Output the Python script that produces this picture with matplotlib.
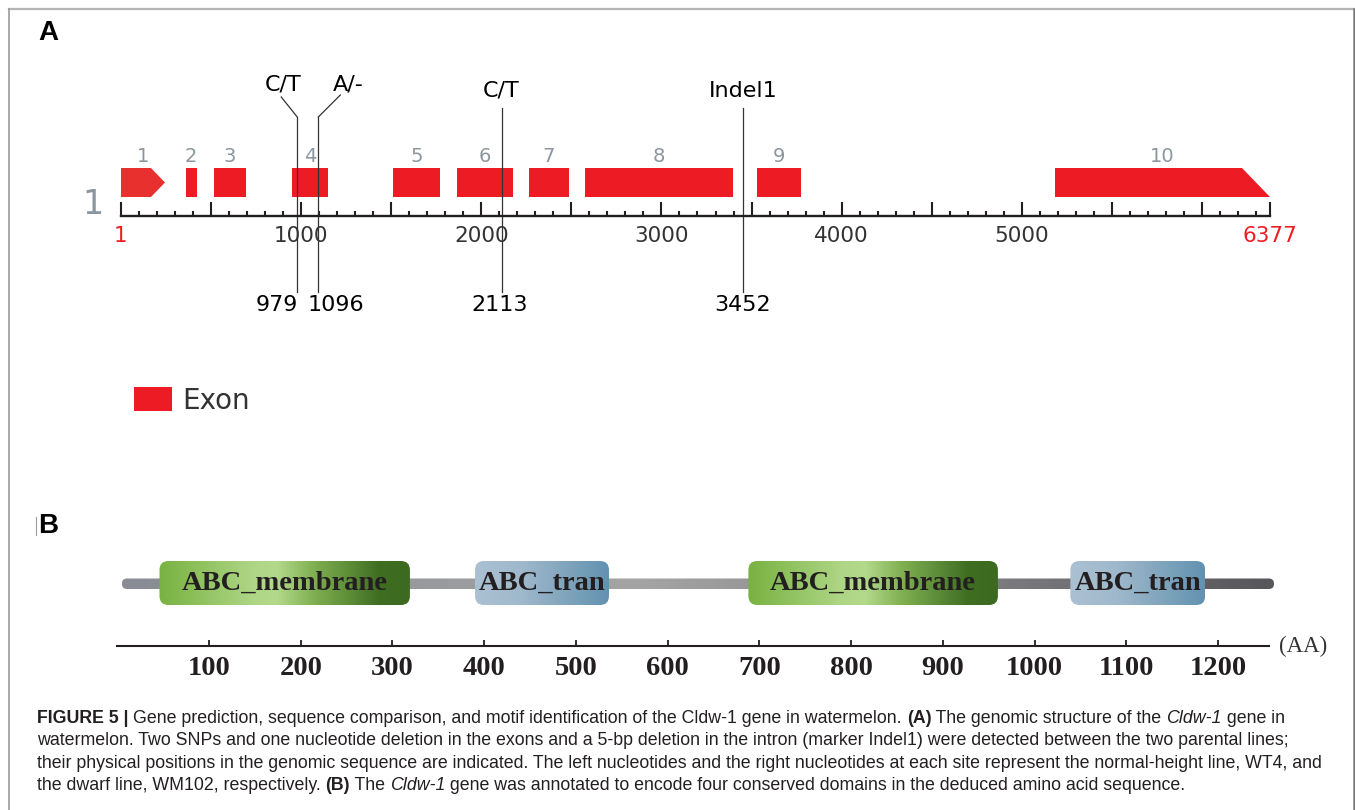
import numpy as np
import matplotlib
matplotlib.use('Agg')
import matplotlib.pyplot as plt
import matplotlib.font_manager as fm
from matplotlib.patches import Rectangle, Polygon, FancyBboxPatch
from matplotlib.lines import Line2D
from matplotlib.colors import LinearSegmentedColormap

# ---- panel A: genomic structure (bp) ----
gene_len = 6377
exon_start = [1, 361, 518, 951, 1512, 1864, 2265, 2578, 3532, 5184]
exon_end = [245, 420, 694, 1151, 1771, 2178, 2487, 3396, 3775, 6377]
exon_names = ['1', '2', '3', '4', '5', '6', '7', '8', '9', '10']
var_pos = [979, 1096, 2113, 3452]
var_top = ['C/T', 'A/-', 'C/T', 'Indel1']
var_bottom = ['979', '1096', '2113', '3452']
bp_labels = [1000, 2000, 3000, 4000, 5000]

# ---- panel B: conserved domains (AA) ----
prot_len = 1258
dom_names = ['ABC_membrane', 'ABC_tran', 'ABC_membrane', 'ABC_tran']
dom_start = [46, 390, 688, 1039]
dom_end = [319, 536, 960, 1186]
aa_ticks = [100, 200, 300, 400, 500, 600, 700, 800, 900, 1000, 1100, 1200]

caption = [
    [('FIGURE 5 | ', 'b'), ('Gene prediction, sequence comparison, and motif identification of the Cldw-1 gene in watermelon. ', 'n'),
     ('(A)', 'b'), (' The genomic structure of the ', 'n'), ('Cldw-1', 'i'), (' gene in', 'n')],
    [('watermelon. Two SNPs and one nucleotide deletion in the exons and a 5-bp deletion in the intron (marker Indel1) were detected between the two parental lines;', 'n')],
    [('their physical positions in the genomic sequence are indicated. The left nucleotides and the right nucleotides at each site represent the normal-height line, WT4, and', 'n')],
    [('the dwarf line, WM102, respectively. ', 'n'), ('(B)', 'b'), (' The ', 'n'), ('Cldw-1', 'i'),
     (' gene was annotated to encode four conserved domains in the deduced amino acid sequence.', 'n')],
]

RED = '#ed1c24'
GREY_NUM = '#8b96a0'
INK = '#231f20'

W, H = 1355, 810
fig = plt.figure(figsize=(W / 100, H / 100), dpi=100)
fig.patch.set_facecolor('white')


def px_axes(x0, x1, y0, y1):
    return fig.add_axes([x0 / W, 1 - y1 / H, (x1 - x0) / W, (y1 - y0) / H])


# frame around the figure
frame = dict(transform=fig.transFigure)
fig.add_artist(Line2D([9 / W, 1354 / W], [1 - 8.5 / H] * 2, color='#b4b4b4', lw=1.6, **frame))
fig.add_artist(Line2D([9 / W] * 2, [0, 1 - 8.5 / H], color='#9a9a9a', lw=1.2, **frame))
fig.add_artist(Line2D([1354 / W] * 2, [0, 1 - 8.5 / H], color='#7a7a7a', lw=1.8, **frame))

fig.text(48 / W, 1 - 33 / H, 'A', fontsize=20, fontweight='bold', family='Liberation Sans',
         ha='center', va='center', color='black')
fig.text(48 / W, 1 - 526 / H, 'B', fontsize=20, fontweight='bold', family='Liberation Sans',
         ha='center', va='center', color='black')
fig.add_artist(Line2D([35.7 / W] * 2, [1 - 517 / H, 1 - 535 / H], color='#9a9a9a', lw=0.8, **frame))

# ================= panel A =================
axA = px_axes(121, 1270, 0, 480)
axA.set_xlim(1, gene_len)
axA.set_ylim(480, 0)
bp_per_px = (gene_len - 1) / (1270 - 121)

ex_top, ex_bot = 168, 197
for i, (s, e) in enumerate(zip(exon_start, exon_end)):
    if i == 0:
        tip = e - 14 * bp_per_px
        poly = Polygon([(s, ex_top), (tip, ex_top), (e, (ex_top + ex_bot) / 2), (tip, ex_bot), (s, ex_bot)],
                       closed=True, fc='#e8302e', ec='none')
        axA.add_patch(poly)
    elif i == len(exon_start) - 1:
        cut = e - 28 * bp_per_px
        poly = Polygon([(s, ex_top), (cut, ex_top), (e, ex_bot), (s, ex_bot)], closed=True, fc=RED, ec='none')
        axA.add_patch(poly)
    else:
        axA.add_patch(Rectangle((s, ex_top), e - s, ex_bot - ex_top, fc=RED, ec='none'))
    axA.text((s + e) / 2, 157, exon_names[i], ha='center', va='center', fontsize=14,
             color=GREY_NUM, family='DejaVu Sans')

# scale axis
axA.spines[['left', 'right', 'top']].set_visible(False)
axA.spines['bottom'].set_position(('data', 216))
axA.spines['bottom'].set_bounds(1, gene_len)
axA.spines['bottom'].set_linewidth(1.7)
axA.spines['bottom'].set_color(INK)
axA.set_yticks([])
major = [1] + list(range(500, gene_len, 500)) + [gene_len]
major_lab = []
for m in major:
    if m in bp_labels or m in (1, gene_len):
        major_lab.append(str(m))
    else:
        major_lab.append('')
axA.set_xticks(major)
axA.set_xticklabels(major_lab)
axA.set_xticks([m for m in range(100, gene_len, 100) if m % 500], minor=True)
axA.tick_params(axis='x', which='major', direction='in', length=10, width=1.5, color=INK,
                labelsize=15.5, labelcolor='#333333', pad=7.5)
axA.tick_params(axis='x', which='minor', direction='in', length=3.8, width=1.5, color=INK)
for lab in axA.get_xticklabels():
    lab.set_family('DejaVu Sans')
    if lab.get_text() in ('1', str(gene_len)):
        lab.set_color(RED)
axA.patch.set_alpha(0)

# chromosome number
axA.text(1 - 28 * bp_per_px, 205, '1', ha='center', va='center', fontsize=24, color=GREY_NUM,
         family='DejaVu Sans')

# variant sites
line_top = [117, 117, 108, 108]
diag_dx = [-16, 22, 0, 0]
diag_y = [97, 95, 108, 108]
top_dx = [-14, 30, 0, 0]
top_y = [84, 84, 91, 91]
bot_dx = [1, -11, -2, 0]
bot_ha = ['right', 'left', 'center', 'center']
for i, p in enumerate(var_pos):
    axA.plot([p, p], [line_top[i], 292], color='#333333', lw=0.9)
    if diag_dx[i]:
        axA.plot([p, p + diag_dx[i] * bp_per_px], [line_top[i], diag_y[i]], color='#333333', lw=0.9)
    axA.text(p + top_dx[i] * bp_per_px, top_y[i], var_top[i], ha='center', va='center', fontsize=16,
             color='black', family='DejaVu Sans')
    axA.text(p + bot_dx[i] * bp_per_px, 305, var_bottom[i], ha=bot_ha[i], va='center', fontsize=16,
             color='black', family='DejaVu Sans')

# legend
fig.add_artist(Rectangle((134 / W, 1 - 411 / H), 38 / W, 24 / H, fc=RED, ec='none', transform=fig.transFigure))
fig.text(182 / W, 1 - 401 / H, 'Exon', fontsize=20, family='DejaVu Sans', color='#333333',
         ha='left', va='center')

# ================= panel B =================
x0B, x1B = 117.3, 1290
aa_per_px = 1 / 0.9173
axis_end = (1269 - x0B) * aa_per_px
axB = px_axes(x0B, x1B, 480, 700)
axB.set_xlim(0, (x1B - x0B) * aa_per_px)
axB.set_ylim(700, 480)


def gradient_box(ax, s, e, y0, y1, colors, radius_px, z):
    box = FancyBboxPatch((s, y0), e - s, y1 - y0,
                         boxstyle='round,pad=0,rounding_size=%f' % (radius_px * aa_per_px),
                         mutation_aspect=1 / aa_per_px, fc='none', ec='none', zorder=z)
    ax.add_patch(box)
    cmap = LinearSegmentedColormap.from_list('g', colors)
    im = ax.imshow(np.linspace(0, 1, 256).reshape(1, -1), cmap=cmap, extent=(s, e, y1, y0),
                   aspect='auto', interpolation='bilinear', zorder=z)
    im.set_clip_path(box)
    return box


bb_colors = [(0, '#898c94'), (0.45, '#a4a4a4'), (0.7, '#858489'), (1, '#57565b')]
gradient_box(axB, 5, prot_len + 3, 578.5, 589, bb_colors, 5.2, 2)

mem_colors = [(0, '#78b241'), (0.38, '#afd686'), (0.47, '#b3d98b'), (0.62, '#7faf50'),
              (0.88, '#3f6e22'), (1, '#3c6a20')]
tran_colors = [(0, '#abc1d3'), (0.35, '#9fb8cb'), (1, '#6292b0')]
for name, s, e in zip(dom_names, dom_start, dom_end):
    cols = mem_colors if 'membrane' in name else tran_colors
    gradient_box(axB, s, e, 561, 605, cols, 9, 3)
    axB.text((s + e) / 2, 583, name, ha='center', va='center', fontsize=20.5, fontweight='bold',
             family='Liberation Serif', color=INK, zorder=4)

axB.spines[['left', 'right', 'top']].set_visible(False)
axB.spines['bottom'].set_position(('data', 645.5))
axB.spines['bottom'].set_bounds(0, axis_end)
axB.spines['bottom'].set_linewidth(1.5)
axB.spines['bottom'].set_color(INK)
axB.set_yticks([])
axB.set_xticks(aa_ticks)
axB.set_xticklabels([str(t) for t in aa_ticks])
axB.tick_params(axis='x', direction='in', length=4.3, width=1.3, color=INK, labelsize=20.5,
                labelcolor=INK, pad=7.5)
for lab in axB.get_xticklabels():
    lab.set_family('Liberation Serif')
    lab.set_fontweight('bold')
axB.annotate('(AA)', xy=(axis_end, 646), xycoords='data', xytext=(7.5, 0),
             textcoords='offset points', ha='left', va='center', fontsize=16.5,
             family='Liberation Serif', color='#333333', annotation_clip=False)
axB.patch.set_alpha(0)

# ================= caption =================
names = {f.name for f in fm.fontManager.ttflist}
cap_family = 'Liberation Sans Narrow' if 'Liberation Sans Narrow' in names else 'Liberation Sans'
renderer = fig.canvas.get_renderer()
style_kw = {'n': dict(), 'b': dict(fontweight='bold'), 'i': dict(fontstyle='italic')}


def seg_width(txt, st, size):
    kw = dict(fontsize=size, family=cap_family, **style_kw[st])
    t1 = fig.text(0, 0, 'x' + txt + 'x', **kw)
    t2 = fig.text(0, 0, 'xx', **kw)
    w = t1.get_window_extent(renderer).width - t2.get_window_extent(renderer).width
    t1.remove()
    t2.remove()
    return w


# one font size for the caption, fitted to the line ends of the original layout
cap_x0 = 37
cap_x1 = [1306, 1258, 1316, 1198]
fits = [12 * (xr - cap_x0) / sum(seg_width(t, s, 12) for t, s in line)
        for line, xr in zip(caption, cap_x1)]
cap_size = float(np.mean(fits))
baselines = [723, 745.3, 767.6, 790]
for line, yb in zip(caption, baselines):
    x = cap_x0
    for txt, st in line:
        fig.text(x / W, 1 - yb / H, txt, fontsize=cap_size, family=cap_family, color=INK,
                 ha='left', va='baseline', **style_kw[st])
        x += seg_width(txt, st, cap_size)

fig.savefig('out.png', dpi=100)
